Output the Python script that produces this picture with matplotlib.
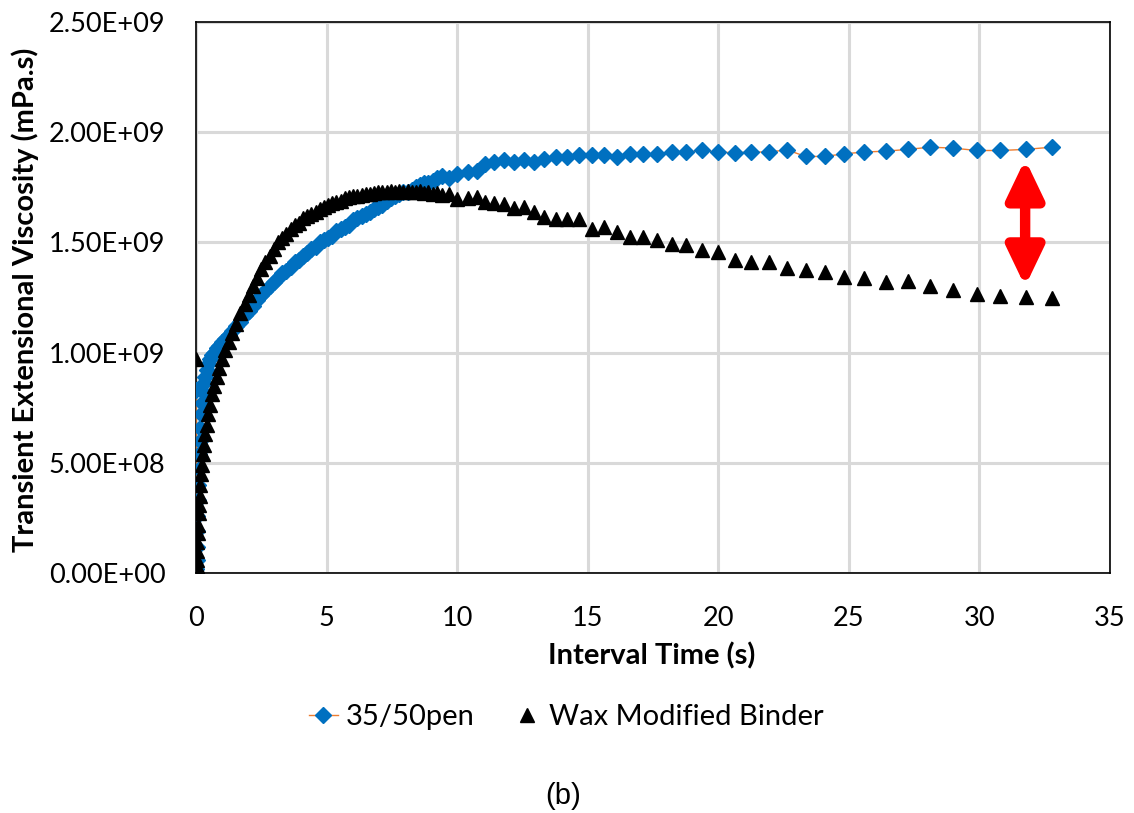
import matplotlib.pyplot as plt
from matplotlib.lines import Line2D
from matplotlib.ticker import FuncFormatter

# interval time (s), shared by both binders
time_s = [
    0.00, 0.01, 0.02, 0.03, 0.04, 0.05, 0.06, 0.08, 0.10, 0.12,
    0.14, 0.17, 0.20, 0.23, 0.27, 0.31, 0.36, 0.41, 0.47, 0.54,
    0.62, 0.70, 0.79, 0.89, 1.00, 1.12, 1.25, 1.39, 1.54, 1.70,
    1.86, 2.02, 2.18, 2.34, 2.50, 2.66, 2.82, 2.98, 3.14, 3.30,
    3.46, 3.62, 3.78, 3.94, 4.10, 4.26, 4.42, 4.58, 4.74, 4.90,
    5.06, 5.22, 5.38, 5.54, 5.70, 5.86, 6.02, 6.18, 6.34, 6.50,
    6.66, 6.82, 6.98, 7.14, 7.30, 7.46, 7.62, 7.78, 7.94, 8.10,
    8.26, 8.42, 8.58, 8.74, 8.90, 9.06, 9.22,
    9.42, 9.67, 10.00, 10.42, 10.75, 11.08, 11.41, 11.79, 12.16, 12.57,
    12.96, 13.32, 13.79, 14.19, 14.65, 15.15, 15.61, 16.11, 16.61, 17.11,
    17.64, 18.22, 18.77, 19.39, 19.97, 20.64, 21.27, 21.93, 22.63, 23.34,
    24.07, 24.82, 25.59, 26.42, 27.25, 28.11, 28.97, 29.90, 30.80, 31.77,
    32.76,
]

# transient extensional viscosity, in 1e9 mPa.s
pen_3550 = [
    0.83, 0.02, 0.06, 0.12, 0.19, 0.26, 0.33, 0.40, 0.47, 0.54,
    0.60, 0.66, 0.72, 0.77, 0.82, 0.86, 0.89, 0.92, 0.95, 0.97,
    0.99, 1.00, 1.02, 1.03, 1.05, 1.06, 1.08, 1.10, 1.12, 1.14,
    1.17, 1.19, 1.21, 1.24, 1.26, 1.28, 1.30, 1.32, 1.34, 1.36,
    1.37, 1.39, 1.41, 1.42, 1.44, 1.45, 1.47, 1.48, 1.50, 1.51,
    1.52, 1.53, 1.55, 1.56, 1.57, 1.58, 1.60, 1.61, 1.62, 1.63,
    1.64, 1.65, 1.66, 1.67, 1.69, 1.70, 1.71, 1.72, 1.73, 1.73,
    1.74, 1.75, 1.76, 1.77, 1.77, 1.78, 1.79,
    1.80, 1.79, 1.81, 1.82, 1.825, 1.857, 1.864, 1.872, 1.864, 1.872,
    1.864, 1.880, 1.887, 1.887, 1.895, 1.895, 1.895, 1.887, 1.902, 1.902,
    1.902, 1.910, 1.910, 1.917, 1.910, 1.907, 1.910, 1.910, 1.920, 1.890,
    1.890, 1.902, 1.910, 1.914, 1.922, 1.932, 1.928, 1.917, 1.917, 1.922,
    1.932,
]

wax_binder = [
    0.97, 0.01, 0.03, 0.06, 0.10, 0.14, 0.18, 0.22, 0.27, 0.31,
    0.35, 0.40, 0.45, 0.49, 0.54, 0.58, 0.63, 0.67, 0.72, 0.76,
    0.81, 0.85, 0.89, 0.93, 0.97, 1.01, 1.05, 1.09, 1.13, 1.18,
    1.22, 1.26, 1.30, 1.34, 1.38, 1.41, 1.44, 1.47, 1.50, 1.52,
    1.54, 1.56, 1.58, 1.59, 1.61, 1.62, 1.63, 1.64, 1.65, 1.66,
    1.67, 1.68, 1.685, 1.69, 1.70, 1.705, 1.71, 1.71, 1.715, 1.72,
    1.72, 1.725, 1.73, 1.73, 1.73, 1.735, 1.73, 1.735, 1.73, 1.735,
    1.73, 1.73, 1.735, 1.725, 1.73, 1.72, 1.725,
    1.714, 1.721, 1.699, 1.702, 1.706, 1.684, 1.681, 1.676, 1.654, 1.661,
    1.639, 1.616, 1.608, 1.608, 1.608, 1.563, 1.571, 1.548, 1.526, 1.526,
    1.511, 1.491, 1.488, 1.465, 1.458, 1.420, 1.413, 1.413, 1.383, 1.375,
    1.367, 1.345, 1.340, 1.322, 1.327, 1.300, 1.285, 1.265, 1.255, 1.250,
    1.247,
]

series_labels = ["35/50pen", "Wax Modified Binder"]

plt.rcParams["font.family"] = ["Lato", "DejaVu Sans"]

fig = plt.figure(figsize=(11.34, 8.13), dpi=100)
ax = fig.add_axes([196 / 1134, 1 - 573 / 813, (1110 - 196) / 1134, (573 - 22) / 813])

pen_vals = [v * 1e9 for v in pen_3550]
wax_vals = [v * 1e9 for v in wax_binder]

ax.plot(time_s, pen_vals, color="#ED7D31", lw=1.0, marker="D", ms=8.5,
        mfc="#0070C0", mec="#0070C0", zorder=3)
ax.plot(time_s, wax_vals, ls="none", marker="^", ms=10,
        mfc="black", mec="black", zorder=4)

# gap between the two binders at the end of the test
ax.annotate("", xy=(31.75, 1.30e9), xytext=(31.75, 1.877e9),
            arrowprops=dict(arrowstyle="<|-|>,head_length=1.15,head_width=0.55",
                            mutation_scale=20, color="red", lw=7.5,
                            shrinkA=0, shrinkB=0), zorder=5)

ax.set_xlim(0, 35)
ax.set_ylim(0, 2.5e9)
ax.set_xticks(range(0, 36, 5))
ax.set_yticks([0, 0.5e9, 1.0e9, 1.5e9, 2.0e9, 2.5e9])
ax.yaxis.set_major_formatter(FuncFormatter(lambda v, p: f"{v:.2E}"))
ax.tick_params(length=0, labelsize=19.5)
ax.tick_params(axis="x", pad=24, labelsize=19.5)
ax.tick_params(axis="y", pad=22)
ax.grid(True, color="#d9d9d9", lw=2.2)
ax.set_axisbelow(True)
for s in ax.spines.values():
    s.set_color("black")
    s.set_linewidth(1.2)

fig.text(652 / 1134, 1 - 656 / 813, "Interval Time (s)", ha="center", va="center",
         fontsize=21, fontweight="bold")
fig.text(25 / 1134, 1 - 300 / 813, "Transient Extensional Viscosity (mPa.s)",
         ha="center", va="center", rotation=90, fontsize=21, fontweight="bold")

handles = [
    Line2D([], [], color="#ED7D31", lw=1.0, marker="D", ms=8.5,
           mfc="#0070C0", mec="#0070C0"),
    Line2D([], [], ls="none", marker="^", ms=10, mfc="black", mec="black"),
]
fig.legend(handles, series_labels, loc="center", bbox_to_anchor=(566 / 1134, 1 - 717 / 813),
           ncol=2, frameon=False, fontsize=21, handlelength=1.0, handletextpad=0.25,
           columnspacing=1.3)

fig.text(563 / 1134, 1 - 796 / 813, "(b)", ha="center", va="center", fontsize=21,
         family="Liberation Sans")

fig.savefig("out.png", dpi=100)
